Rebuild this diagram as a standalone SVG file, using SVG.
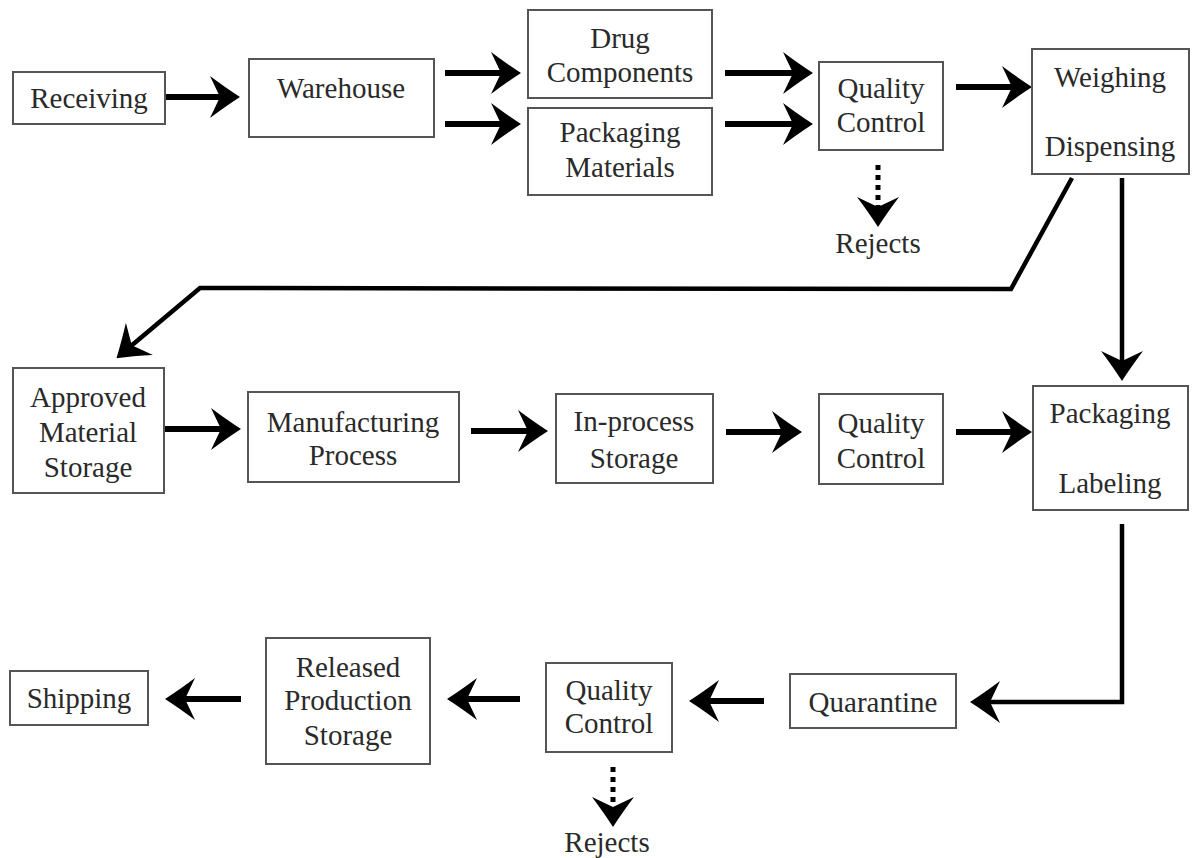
<svg xmlns="http://www.w3.org/2000/svg" width="1195" height="858" viewBox="0 0 1195 858">
<style>
.box{fill:#fff;stroke:#555;stroke-width:2}
text{font-family:"Liberation Serif","Times New Roman",serif;font-size:29px;fill:#2a2a2a;text-anchor:middle;dominant-baseline:central}
.a{fill:none;stroke:#000;stroke-width:6;marker-end:url(#ah)}
.l{fill:none;stroke:#000;stroke-width:4.5;stroke-linejoin:miter;marker-end:url(#ah)}
.d{fill:none;stroke:#000;stroke-width:5;stroke-dasharray:5 5;marker-end:url(#ah)}
</style>
<defs>
<marker id="ah" viewBox="0 0 30 44" markerWidth="30" markerHeight="44" markerUnits="userSpaceOnUse" refX="11" refY="22" orient="auto">
<path d="M0,1 Q16,13 30,22 Q16,31 0,43 L10,22 Z" fill="#000"/>
</marker>
</defs>
<rect width="1195" height="858" fill="#fff"/>
<g id="connectors">
<path class="a" d="M165,97 H221"/>
<path class="a" d="M445,73 H502"/>
<path class="a" d="M445,124 H502"/>
<path class="a" d="M725,73 H794"/>
<path class="a" d="M725,124 H794"/>
<path class="a" d="M956,87 H1013"/>
<path class="d" d="M878,165 V208"/>
<path class="l" d="M1072,178 L1011,289 L200,288 L131,346"/>
<path class="l" d="M1122,178 V362"/>
<path class="a" d="M164,429 H222"/>
<path class="a" d="M471,431 H529"/>
<path class="a" d="M726,432 H783"/>
<path class="a" d="M956,432 H1013"/>
<path class="l" d="M1122,524 V702 H989"/>
<path class="a" d="M764,701 H708"/>
<path class="d" d="M613,767 V808"/>
<path class="a" d="M520,699 H466"/>
<path class="a" d="M241,699 H184"/>
</g>
<g id="receiving"><rect class="box" x="13" y="72" width="152" height="52"/><text x="89" y="98">Receiving</text></g>
<g id="warehouse"><rect class="box" x="249" y="59" width="185" height="78"/><text x="341" y="88">Warehouse</text></g>
<g id="drug-components"><rect class="box" x="528" y="10" width="184" height="88"/><text x="620" y="38">Drug</text><text x="620" y="72">Components</text></g>
<g id="packaging-materials"><rect class="box" x="528" y="108" width="184" height="87"/><text x="620" y="132">Packaging</text><text x="620" y="167">Materials</text></g>
<g id="quality-control-1"><rect class="box" x="819" y="62" width="124" height="88"/><text x="881" y="88">Quality</text><text x="881" y="122">Control</text></g>
<g id="weighing-dispensing"><rect class="box" x="1032" y="49" width="157" height="125"/><text x="1110" y="77">Weighing</text><text x="1110" y="146">Dispensing</text></g>
<g id="rejects-1"><text x="878" y="243">Rejects</text></g>
<g id="approved-material-storage"><rect class="box" x="13" y="368" width="151" height="125"/><text x="88" y="397">Approved</text><text x="88" y="432">Material</text><text x="88" y="467">Storage</text></g>
<g id="manufacturing-process"><rect class="box" x="248" y="392" width="211" height="90"/><text x="353" y="422">Manufacturing</text><text x="353" y="455">Process</text></g>
<g id="in-process-storage"><rect class="box" x="556" y="394" width="157" height="89"/><text x="634" y="421">In-process</text><text x="634" y="458">Storage</text></g>
<g id="quality-control-2"><rect class="box" x="819" y="394" width="124" height="90"/><text x="881" y="423">Quality</text><text x="881" y="458">Control</text></g>
<g id="packaging-labeling"><rect class="box" x="1033" y="386" width="155" height="124"/><text x="1110" y="413">Packaging</text><text x="1110" y="483">Labeling</text></g>
<g id="quarantine"><rect class="box" x="790" y="674" width="166" height="54"/><text x="873" y="702">Quarantine</text></g>
<g id="quality-control-3"><rect class="box" x="546" y="663" width="126" height="89"/><text x="609" y="690">Quality</text><text x="609" y="723">Control</text></g>
<g id="rejects-2"><text x="607" y="842">Rejects</text></g>
<g id="released-production-storage"><rect class="box" x="266" y="638" width="164" height="126"/><text x="348" y="667">Released</text><text x="348" y="700">Production</text><text x="348" y="735">Storage</text></g>
<g id="shipping"><rect class="box" x="10" y="671" width="138" height="54"/><text x="79" y="698">Shipping</text></g>
</svg>
